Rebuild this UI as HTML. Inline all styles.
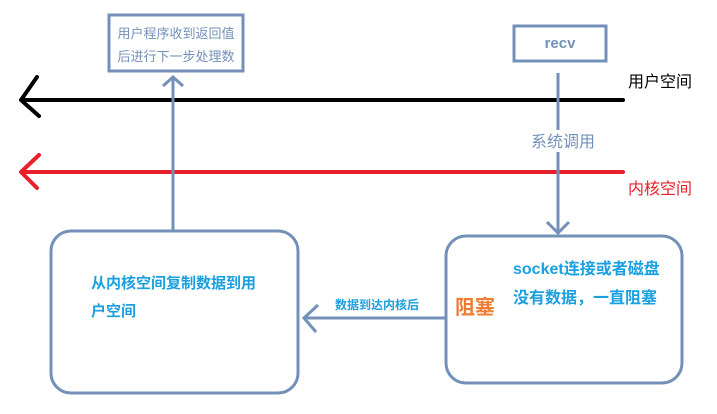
<!DOCTYPE html>
<html><head><meta charset="utf-8"><style>
html,body{margin:0;padding:0;background:#fff;}
svg{display:block;}
text{font-family:"Liberation Sans","Noto Sans CJK SC","WenQuanYi Zen Hei",sans-serif;}
</style></head><body>
<svg width="717" height="414" viewBox="0 0 717 414" xmlns="http://www.w3.org/2000/svg">
<g fill="none" stroke-linecap="round" stroke-linejoin="round">
<!-- black user line -->
<line x1="22" y1="100" x2="623" y2="100" stroke="#000" stroke-width="4"/>
<polyline points="37,77 21,100 39,116" stroke="#000" stroke-width="4"/>
<!-- red kernel line -->
<line x1="22" y1="172" x2="623" y2="172" stroke="#e8202a" stroke-width="4"/>
<polyline points="39,155 21,172 37,188" stroke="#e8202a" stroke-width="4"/>
</g>
<g fill="none" stroke="#7391b8" stroke-width="3">
<rect x="109" y="15" width="134" height="56" />
<rect x="514" y="26" width="92" height="35" />
<line x1="173" y1="77" x2="173" y2="231"/>
<polyline points="163,86 173,77 183,86" stroke-width="3"/>
<line x1="558" y1="73" x2="558" y2="130"/>
<line x1="558" y1="152" x2="558" y2="234"/>
<polyline points="547,222 558,233 569,222"/>
<rect x="51" y="231" width="247" height="162" rx="20"/>
<rect x="446" y="236" width="236" height="147" rx="20"/>
<line x1="446" y1="318" x2="304" y2="318"/>
<polyline points="318,305 304,318 316,332"/>
</g>
<g fill="#7391b8" font-size="13">
<text x="176" y="38" text-anchor="middle">用户程序收到返回值</text>
<text x="176" y="61" text-anchor="middle">后进行下一步处理数</text>
</g>
<text x="560" y="48" text-anchor="middle" fill="#7391b8" font-size="15" font-weight="bold">recv</text>
<text x="563" y="147" text-anchor="middle" fill="#7391b8" font-size="16">系统调用</text>
<text x="628" y="87" fill="#000" font-size="16">用户空间</text>
<text x="628" y="194" fill="#e8202a" font-size="16">内核空间</text>
<g fill="#1a9fe0" font-size="15" font-weight="bold">
<text x="91" y="288">从内核空间复制数据到用</text>
<text x="91" y="316">户空间</text>
<text x="513" y="274" font-size="16">socket连接或者磁盘</text>
<text x="513" y="303" font-size="16">没有数据，一直阻塞</text>
<text x="335" y="309" font-size="12">数据到达内核后</text>
</g>
<text x="455" y="314" fill="#f07c33" font-size="20" font-weight="bold">阻塞</text>
</svg>
</body></html>
